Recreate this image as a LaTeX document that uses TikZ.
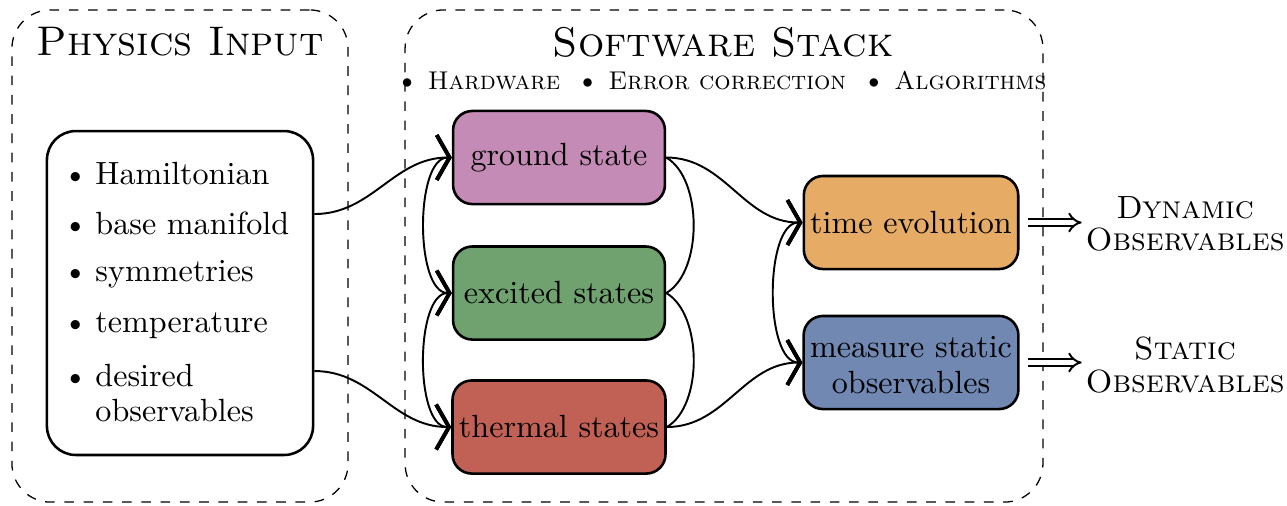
\documentclass[tikz,border=0pt]{standalone}
\usetikzlibrary{arrows.meta}
\definecolor{cgs}{RGB}{195,139,181}
\definecolor{ces}{RGB}{112,162,112}
\definecolor{cts}{RGB}{193,96,84}
\definecolor{cte}{RGB}{230,171,100}
\definecolor{cms}{RGB}{112,136,178}
\begin{document}
\begin{tikzpicture}[x=0.3115pt,y=-0.3115pt,
  container/.style={draw, dashed, rounded corners=12pt, line width=0.4pt},
  statebox/.style={draw, thick, rounded corners=6pt, minimum width=66pt, minimum height=29pt, align=center, inner sep=2pt},
  conn/.style={semithick},
  arr/.style={-{Straight Barb[length=4pt,width=14pt,line width=1.2pt]}},
  both/.style={{Straight Barb[length=4pt,width=14pt,line width=1.2pt]}-{Straight Barb[length=4pt,width=14pt,line width=1.2pt]}},
  implies/.style={double, double distance=1.5pt, semithick, -{Implies}},
  obslabel/.style={align=center, inner sep=1pt},
  title/.style={font=\fontsize{12.9}{15}\selectfont\scshape, inner sep=0pt}
]
\useasboundingbox (0,0) rectangle (1287,505);
% containers
\node[container, minimum width=104.7pt, minimum height=153.3pt] (phys) at (180,256) {};
\node[container, minimum width=198.7pt, minimum height=153.3pt] (soft) at (724,256) {};
\node[title] (ptitle) at (180,42) {Physics Input};
\node[title] (stitle) at (723,42) {Software Stack};
\node[inner sep=0pt] (sub) at (721,80) {\footnotesize{\small\textbullet}~\textsc{Hardware}\hspace{5pt}{\small\textbullet}~\textsc{Error correction}\hspace{5pt}{\small\textbullet}~\textsc{Algorithms}};
% input box
\node[draw, thick, rounded corners=9pt, minimum width=82.9pt, minimum height=100.9pt, align=left] (inp) at (180,293)
 {\rule{0pt}{9.9pt}\textbullet\hspace{2.4pt}Hamiltonian\\[3.5pt]
  \textbullet\hspace{2.4pt}base manifold\rule{2.5pt}{0pt}\\[2.8pt]
  \textbullet\hspace{2.4pt}symmetries\\[3.6pt]
  \textbullet\hspace{2.4pt}temperature\\[4.9pt]
  \textbullet\hspace{2.4pt}\begin{tabular}[t]{@{}l@{}}desired\\[-1.0pt]observables\end{tabular}};
% states
\node[statebox, fill=cgs] (gs) at (559,157.5) {ground state};
\node[statebox, fill=ces] (es) at (559,293) {excited states};
\node[statebox, fill=cts] (ts) at (559,427) {thermal states};
\node[statebox, fill=cte, minimum width=66.7pt] (te) at (911,222.5) {time evolution};
\node[statebox, fill=cms, minimum width=66.7pt] (ms) at (911,362.5) {\rule{0pt}{8pt}measure static\\[-0.8pt]observables};
% outputs
\node[obslabel] (dyn) at (1185,224) {\textsc{Dynamic}\\[-2pt]\textsc{Observables}};
\node[obslabel] (stat) at (1185,365) {\textsc{Static}\\[-2pt]\textsc{Observables}};
% connectors
\draw[conn, arr] ([yshift=24.6pt]inp.east) to[out=0,in=180] (gs.west);
\draw[conn, arr] ([yshift=-24.3pt]inp.east) to[out=0,in=180] (ts.west);
\draw[conn, both] (gs.west) to[out=180,in=180,looseness=0.7] (es.west);
\draw[conn, both] (es.west) to[out=180,in=180,looseness=0.7] (ts.west);
\draw[conn] (gs.east) to[out=-30,in=30,looseness=0.8] (es.east);
\draw[conn] (es.east) to[out=-30,in=30,looseness=0.8] (ts.east);
\draw[conn, arr] (gs.east) to[out=0,in=180] (te.west);
\draw[conn, arr] (ts.east) to[out=0,in=180] (ms.west);
\draw[conn, both] (te.west) to[out=180,in=180,looseness=0.7] (ms.west);
\draw[implies, shorten <=2.5pt] (te.east) -- (te.east -| dyn.west);
\draw[implies, shorten <=2.5pt] (ms.east) -- (ms.east -| stat.west);
\end{tikzpicture}
\end{document}
